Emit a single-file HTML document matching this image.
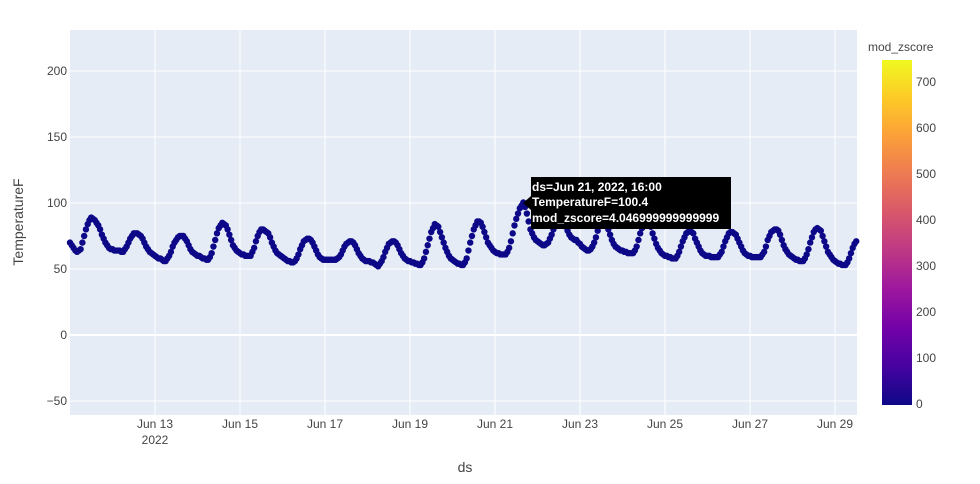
<!DOCTYPE html>
<html><head><meta charset="utf-8">
<style>
body{margin:0;background:#fff;font-family:"Liberation Sans",Arial,sans-serif;}
svg text{font-family:"Liberation Sans",Arial,sans-serif;}
</style></head>
<body>
<svg id="chart" width="980" height="479" xmlns="http://www.w3.org/2000/svg">
  <defs>
    <linearGradient id="plasma" x1="0" y1="1" x2="0" y2="0">
      <stop offset="0" stop-color="#0d0887"/>
      <stop offset="0.111" stop-color="#46039f"/>
      <stop offset="0.222" stop-color="#7201a8"/>
      <stop offset="0.333" stop-color="#9c179e"/>
      <stop offset="0.444" stop-color="#bd3786"/>
      <stop offset="0.556" stop-color="#d8576b"/>
      <stop offset="0.667" stop-color="#ed7953"/>
      <stop offset="0.778" stop-color="#fb9f3a"/>
      <stop offset="0.889" stop-color="#fdca26"/>
      <stop offset="1" stop-color="#f0f921"/>
    </linearGradient>
  </defs>
  <rect x="70" y="30" width="787" height="385" fill="#e5ecf6"/>
  <g id="grid"></g>
  <g id="marks"></g>
  <g id="axes"></g>
  <text transform="translate(23,222) rotate(-90)" text-anchor="middle" font-size="14" fill="#444">TemperatureF</text>
  <text x="465" y="472" text-anchor="middle" font-size="14" fill="#444">ds</text>
  <g>
    <text x="868" y="51" font-size="12" fill="#444">mod_zscore</text>
    <rect x="882" y="60" width="30" height="345" fill="url(#plasma)"/>
    <g id="cbticks"></g>
  </g>
  <g>
    <path d="M523,203 L531,196 L531,177 L731,177 L731,229 L531,229 L531,210 Z" fill="#000"/>
    <text x="532" y="191" font-size="12" font-weight="bold" fill="#fff">ds=Jun 21, 2022, 16:00</text>
    <text x="532" y="206" font-size="12" font-weight="bold" fill="#fff">TemperatureF=100.4</text>
    <text x="532" y="222" font-size="12" font-weight="bold" fill="#fff">mod_zscore=4.046999999999999</text>
  </g>
</svg>
<script>
// Hourly temperature values, one array per day (Jun 11 - Jun 29)
const day11=[70,68,66,64,63,64,65,70,75,80,84,87,89,88,87,85,83,80,76,73,70,68,66,65];
const day12=[65,64,64,64,64,63,63,65,67,70,73,75,77,77,77,76,75,73,70,67,65,63,62,61];
const day13=[60,59,58,58,57,56,56,58,60,63,67,70,72,74,75,75,75,73,71,68,65,63,62,61];
const day14=[60,60,59,58,58,57,57,59,62,67,72,77,81,83,85,84,83,80,76,72,68,66,64,63];
const day15=[62,61,61,60,60,60,60,63,66,71,75,78,80,80,79,78,77,74,70,67,64,62,61,60];
const day16=[59,58,57,56,56,55,55,56,58,61,65,68,71,72,73,73,72,70,67,64,61,59,58,57];
const day17=[57,57,57,57,57,57,57,58,59,61,64,67,69,70,71,71,70,68,65,62,60,58,57,56];
const day18=[56,56,55,55,54,53,52,54,56,59,63,66,69,70,71,71,70,68,65,62,60,58,57,56];
const day19=[56,55,55,54,54,53,53,55,58,63,68,73,78,81,84,83,82,78,74,70,66,63,60,58];
const day20=[57,56,55,54,54,53,53,55,58,64,70,75,80,83,86,86,85,82,78,74,70,68,66,64];
const day21=[63,62,62,61,61,61,61,63,66,71,77,83,88,92,96,98,100.4,97,92,86,80,77,74,72];
const day22=[71,70,69,68,68,69,70,73,76,80,85,88,90,89,88,85,82,79,76,74,73,72,72,70];
const day23=[69,67,66,65,64,64,65,67,70,74,79,83,86,86,86,83,80,76,72,69,67,66,65,64];
const day24=[64,63,63,62,62,62,62,64,67,72,77,81,84,85,86,84,82,77,73,69,66,64,62,61];
const day25=[60,60,59,59,58,58,58,60,63,67,71,74,77,78,79,78,77,73,70,67,64,62,61,60];
const day26=[60,60,59,59,59,59,59,61,63,67,71,74,77,78,78,77,76,73,70,67,64,62,61,60];
const day27=[60,59,59,59,59,59,59,61,63,67,72,75,78,79,80,80,79,76,72,68,65,63,61,60];
const day28=[59,58,57,57,56,56,56,58,61,65,70,74,78,80,81,80,79,75,71,67,63,61,59,57];
const day29=[56,55,54,54,53,53,53,55,58,62,66,69,71,72,72];
const days=[day11,day12,day13,day14,day15,day16,day17,day18,day19,day20,day21,day22,day23,day24,day25,day26,day27,day28,day29];
const yTicks=[-50,0,50,100,150,200];
const xTickLabels=["Jun 13","Jun 15","Jun 17","Jun 19","Jun 21","Jun 23","Jun 25","Jun 27","Jun 29"];
const xTickDays=[2,4,6,8,10,12,14,16,18];
const cbTicks=[0,100,200,300,400,500,600,700];

const NS="http://www.w3.org/2000/svg";
const X0=70,X1=857,Y0=30,Y1=415;
const DAYPX=42.5;
const xScale=h=>X0+h/24*DAYPX;
const yScale=v=>335-v*1.32;
const cbScale=v=>404-v*0.46;
function mk(tag,attrs,parent){const e=document.createElementNS(NS,tag);for(const k in attrs)e.setAttribute(k,attrs[k]);parent.appendChild(e);return e;}
const grid=document.getElementById('grid'),axes=document.getElementById('axes'),marks=document.getElementById('marks'),cb=document.getElementById('cbticks');

yTicks.forEach(t=>{
  const y=yScale(t);
  const l=mk('line',{x1:X0,x2:X1,y1:y,y2:y,stroke:'#fff','stroke-width':t===0?2:1},grid);
  
  
  const tx=mk('text',{x:X0-3,y:y+4,'text-anchor':'end','font-size':12,fill:'#444'},axes);
  tx.textContent=String(t).replace('-','−');
  
  
});
xTickDays.forEach((d,i)=>{
  const x=xScale(d*24);
  const l=mk('line',{x1:x,x2:x,y1:Y0,y2:Y1,stroke:'#fff','stroke-width':1},grid);
  
  
  const tx=mk('text',{x:x,y:428,'text-anchor':'middle','font-size':12,fill:'#444'},axes);
  tx.textContent=xTickLabels[i];
  
  
});
const yr=mk('text',{x:xScale(48),y:444,'text-anchor':'middle','font-size':12,fill:'#444'},axes);
yr.textContent='2022';



days.forEach((arr,d)=>{
  arr.forEach((v,j)=>{
    const x=xScale(d*24+j);
    if(x>X1) return;
    const c=mk('circle',{cx:x,cy:yScale(v),r:3.2,fill:'#0d0887'},marks);
    
    
  });
});
cbTicks.forEach(t=>{
  const tx=mk('text',{x:916,y:cbScale(t)+4,'font-size':12,fill:'#444'},cb);
  tx.textContent=t;
  
  
});
</script>
</body></html>
